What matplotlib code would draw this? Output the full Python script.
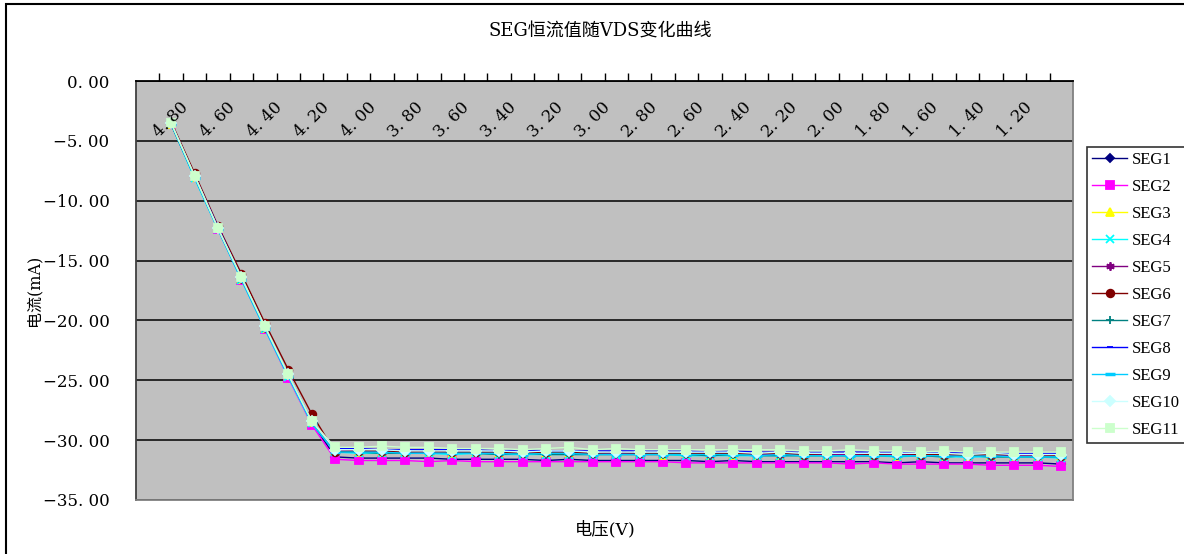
import matplotlib
matplotlib.use("Agg")
from matplotlib import pyplot as plt
from matplotlib.patches import Rectangle
import numpy as np

# x categories (VDS, V) as shown in the sheet
vds = ["4.80", "4.70", "4.60", "4.50", "4.40", "4.30", "4.20", "4.10",
       "4.00", "3.90", "3.80", "3.70", "3.60", "3.50", "3.40", "3.30",
       "3.20", "3.10", "3.00", "2.90", "2.80", "2.70", "2.60", "2.50",
       "2.40", "2.30", "2.20", "2.10", "2.00", "1.90", "1.80", "1.70",
       "1.60", "1.50", "1.40", "1.30", "1.20", "1.10", "1.00"]

# current (mA) per SEG channel
seg1 = [-3.6, -8.0, -12.3, -16.5, -20.6, -24.6, -28.5,
        -31.4, -31.5, -31.5, -31.5, -31.5, -31.6, -31.6, -31.6,
        -31.6, -31.7, -31.6, -31.7, -31.7, -31.7, -31.7, -31.7,
        -31.8, -31.7, -31.8, -31.8, -31.8, -31.8, -31.8, -31.8,
        -31.9, -31.8, -31.9, -31.9, -31.9, -31.9, -31.9, -32.0]
seg2 = [-3.6, -8.0, -12.4, -16.6, -20.7, -24.8, -28.7,
        -31.6, -31.7, -31.7, -31.7, -31.8, -31.7, -31.8, -31.8,
        -31.8, -31.8, -31.8, -31.8, -31.8, -31.8, -31.8, -31.9,
        -31.9, -31.9, -31.9, -31.9, -31.9, -31.9, -32.0, -31.9,
        -32.0, -32.0, -32.0, -32.0, -32.1, -32.1, -32.1, -32.2]
seg3 = [-3.6, -8.0, -12.3, -16.5, -20.6, -24.6, -28.5,
        -30.9, -31.0, -31.0, -31.0, -31.0, -31.1, -31.0, -31.1,
        -31.1, -31.1, -31.1, -31.1, -31.1, -31.1, -31.2, -31.1,
        -31.2, -31.2, -31.2, -31.2, -31.2, -31.2, -31.2, -31.2,
        -31.3, -31.2, -31.3, -31.3, -31.3, -31.3, -31.3, -31.3]
seg4 = [-3.6, -8.1, -12.4, -16.6, -20.7, -24.7, -28.6,
        -31.0, -31.1, -31.1, -31.1, -31.1, -31.2, -31.1, -31.2,
        -31.2, -31.2, -31.2, -31.2, -31.2, -31.2, -31.2, -31.3,
        -31.3, -31.3, -31.3, -31.3, -31.3, -31.3, -31.3, -31.3,
        -31.4, -31.3, -31.4, -31.4, -31.4, -31.4, -31.4, -31.5]
seg5 = [-3.6, -8.0, -12.3, -16.5, -20.6, -24.6, -28.5,
        -30.9, -30.9, -31.0, -31.0, -31.0, -31.0, -31.0, -31.1,
        -31.0, -31.1, -31.1, -31.1, -31.1, -31.1, -31.1, -31.1,
        -31.2, -31.1, -31.2, -31.2, -31.2, -31.2, -31.2, -31.2,
        -31.2, -31.2, -31.3, -31.2, -31.3, -31.3, -31.3, -31.3]
seg6 = [-3.4, -7.7, -12.1, -16.1, -20.2, -24.1, -27.8,
        -31.0, -30.9, -30.9, -31.0, -30.9, -31.0, -31.0, -31.0,
        -31.1, -31.0, -31.0, -31.1, -31.0, -31.1, -31.1, -31.1,
        -31.1, -31.1, -31.1, -31.1, -31.2, -31.1, -31.1, -31.2,
        -31.1, -31.2, -31.2, -31.2, -31.2, -31.2, -31.2, -31.3]
seg7 = [-3.6, -8.0, -12.3, -16.5, -20.6, -24.6, -28.5,
        -31.0, -31.0, -31.1, -31.1, -31.1, -31.1, -31.1, -31.2,
        -31.1, -31.2, -31.2, -31.2, -31.2, -31.2, -31.2, -31.2,
        -31.3, -31.2, -31.3, -31.3, -31.3, -31.3, -31.3, -31.3,
        -31.3, -31.3, -31.4, -31.3, -31.4, -31.4, -31.4, -31.4]
seg8 = [-3.5, -7.9, -12.2, -16.4, -20.5, -24.5, -28.4,
        -30.7, -30.7, -30.8, -30.8, -30.8, -30.8, -30.8, -30.9,
        -30.8, -30.9, -30.9, -30.9, -30.9, -30.9, -30.9, -30.9,
        -31.0, -30.9, -31.0, -31.0, -31.0, -31.0, -31.0, -31.0,
        -31.0, -31.0, -31.1, -31.0, -31.1, -31.1, -31.1, -31.1]
seg9 = [-3.6, -8.1, -12.4, -16.6, -20.7, -24.7, -28.6,
        -31.0, -31.0, -31.0, -31.1, -31.1, -31.1, -31.1, -31.1,
        -31.2, -31.1, -31.1, -31.2, -31.2, -31.2, -31.2, -31.2,
        -31.2, -31.2, -31.3, -31.2, -31.3, -31.3, -31.3, -31.3,
        -31.3, -31.3, -31.3, -31.4, -31.3, -31.4, -31.4, -31.4]
seg10 = [-3.5, -7.9, -12.3, -16.4, -20.5, -24.5, -28.4,
         -30.8, -30.8, -30.8, -30.9, -30.9, -30.9, -30.9, -30.9,
         -31.0, -30.9, -30.9, -31.0, -31.0, -31.0, -31.0, -31.0,
         -31.0, -31.0, -31.1, -31.0, -31.1, -31.1, -31.1, -31.1,
         -31.1, -31.1, -31.1, -31.2, -31.1, -31.2, -31.2, -31.2]
seg11 = [-3.5, -7.9, -12.3, -16.4, -20.5, -24.5, -28.4,
         -30.6, -30.6, -30.5, -30.6, -30.6, -30.7, -30.7, -30.7,
         -30.8, -30.7, -30.6, -30.8, -30.7, -30.8, -30.8, -30.8,
         -30.8, -30.8, -30.8, -30.8, -30.9, -30.9, -30.8, -30.9,
         -30.9, -31.0, -30.9, -31.0, -31.0, -31.0, -31.0, -31.0]

names = ["SEG1", "SEG2", "SEG3", "SEG4", "SEG5", "SEG6", "SEG7", "SEG8",
         "SEG9", "SEG10", "SEG11"]
series = [seg1, seg2, seg3, seg4, seg5, seg6, seg7, seg8, seg9, seg10, seg11]
colors = ["#000080", "#FF00FF", "#FFFF00", "#00FFFF", "#800080", "#800000",
          "#008080", "#0000FF", "#00CCFF", "#CCFFFF", "#CCFFCC"]
markers = ["D", "s", "^", "x", (6, 2, 0), "o", "+", "_", "_", "D", "s"]
msizes = [4.5, 5.5, 5.5, 5.5, 6, 5.5, 6, 4.5, 7, 5, 6]

plt.rcParams['font.family'] = ['DejaVu Serif', 'Noto Sans CJK SC']
plt.rcParams['axes.unicode_minus'] = True

fig = plt.figure(figsize=(11.84, 5.54), dpi=100)
ax = fig.add_axes([136/1184, 1-500/554, (1073-136)/1184, (500-81)/554])
ax.set_facecolor("#C0C0C0")

x = np.arange(len(vds))
for y, n, c, m, ms in zip(series, names, colors, markers, msizes):
    mew = 2.5 if n == "SEG9" else 1.3
    ax.plot(x, y, color=c, lw=1.0, marker=m, ms=ms, mfc=c, mec=c, mew=mew,
            label=n)

ax.set_xlim(-1.5, 38.5)
ax.set_ylim(-35, 0)
ax.set_yticks(np.arange(-35, 1, 5))
ax.yaxis.set_major_formatter(
    plt.FuncFormatter(lambda v, p: ("%.2f" % v).replace(".", ". ").replace("-", "\u2212")))
ax.tick_params(axis="y", length=0, labelsize=12, pad=19)
ax.grid(axis="y", color="black", lw=1.1)
ax.set_axisbelow(True)

ax.xaxis.tick_top()
ax.set_xticks(np.arange(-0.5, 38, 1))
ax.set_xticklabels([])
ax.tick_params(axis="x", direction="out", length=6, width=1, color="black")
for i in range(0, 37, 2):
    ax.text(x[i], 0.907, vds[i].replace(".", ". "), rotation=45,
            ha="center", va="center", rotation_mode="anchor", fontsize=12,
            transform=ax.get_xaxis_transform())

ax.spines["top"].set_color("black")
ax.spines["top"].set_linewidth(1.3)
ax.spines["left"].set_color("#404040")
ax.spines["left"].set_linewidth(1.3)
for s in ["right", "bottom"]:
    ax.spines[s].set_color("#808080")
    ax.spines[s].set_linewidth(1.3)

fig.text(600/1184, 1-32/554, "SEG恒流值随VDS变化曲线", ha="center", va="center",
         fontsize=13)
fig.text(605/1184, 1-530/554, "电压(V)", ha="center", va="center", fontsize=12.5)
fig.text(34/1184, 1-290/554, "电流(mA)", ha="center", va="center", fontsize=11.5,
         rotation=90)

leg = fig.legend(loc="upper left", bbox_to_anchor=(1087/1184, 1-147/554),
                 borderaxespad=0, frameon=True, fancybox=False,
                 prop={"family": "Liberation Serif", "size": 12},
                 handlelength=2.1, handletextpad=0.3, labelspacing=0.66,
                 borderpad=0.3)
leg.get_frame().set_edgecolor("black")
leg.get_frame().set_linewidth(1.2)

fig.patches.append(Rectangle((6/1184, -0.1), 1.2, 1.1 - 4/554, fill=False,
                             edgecolor="black", lw=1.5,
                             transform=fig.transFigure, figure=fig))

fig.savefig("out.png", dpi=100)
